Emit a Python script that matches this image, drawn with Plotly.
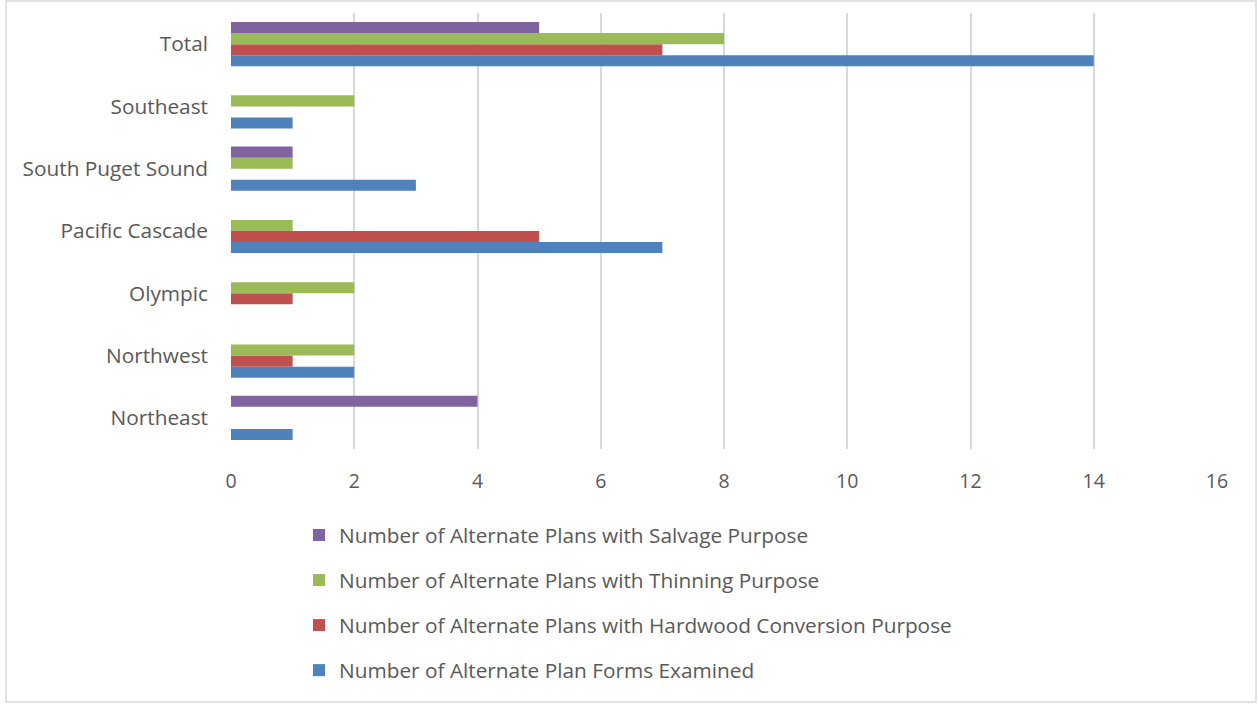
import plotly.graph_objects as go

categories = ["Northeast", "Northwest", "Olympic", "Pacific Cascade",
              "South Puget Sound", "Southeast", "Total"]
forms_examined = [1, 2, 0, 7, 3, 1, 14]
hardwood = [0, 1, 1, 5, 0, 0, 7]
thinning = [0, 2, 2, 1, 1, 2, 8]
salvage = [4, 0, 0, 0, 1, 0, 5]

series = [
    ("Number of Alternate Plan Forms Examined", forms_examined, "#4F81BD", 4),
    ("Number of Alternate Plans with Hardwood Conversion Purpose", hardwood, "#C0504D", 3),
    ("Number of Alternate Plans with Thinning Purpose", thinning, "#9BBB59", 2),
    ("Number of Alternate Plans with Salvage Purpose", salvage, "#8064A2", 1),
]

fig = go.Figure()
for name, vals, color, rank in series:
    fig.add_trace(go.Bar(
        y=categories, x=vals, name=name, orientation="h",
        marker=dict(color=color, line=dict(width=0)),
        legendgroup=name, legendrank=rank,
    ))

W, H = 1259, 704
ml, mr, mt, mb = 231, 42, 13, 255
pw, ph = W - ml - mr, H - mt - mb

fs = 20.8
fig.update_layout(
    width=W, height=H,
    margin=dict(l=ml, r=mr, t=mt, b=mb, pad=0),
    barmode="group", bargap=0.29, bargroupgap=0,
    paper_bgcolor="white", plot_bgcolor="white",
    font=dict(family="Open Sans", size=fs, color="#595959"),
    xaxis=dict(range=[0, 16], dtick=2, showgrid=True, gridcolor="#D9D9D9",
               gridwidth=2, zeroline=False, showline=False, ticks="",
               tickfont=dict(size=19.5, color="#595959"), ticklen=0),
    yaxis=dict(showgrid=False, zeroline=False, showline=False, ticks="",
               tickfont=dict(size=fs, color="#595959")),
    legend=dict(orientation="v", traceorder="grouped",
                x=(299 - ml) / pw, xanchor="left",
                y=-(515 - mt - ph) / ph, yanchor="top",
                font=dict(size=fs, color="#595959"),
                tracegroupgap=15, itemwidth=30),
    shapes=[dict(type="rect", xref="paper", yref="paper",
                 x0=(6 - ml) / pw, x1=(1256 - ml) / pw,
                 y0=(H - mb - 702) / ph, y1=(H - mb - 1) / ph,
                 line=dict(color="#D9D9D9", width=1.5), fillcolor="rgba(0,0,0,0)")],
)
fig.update_xaxes(ticklabelstandoff=18)
fig.update_yaxes(ticklabelstandoff=22)

fig.write_html("out.html")
